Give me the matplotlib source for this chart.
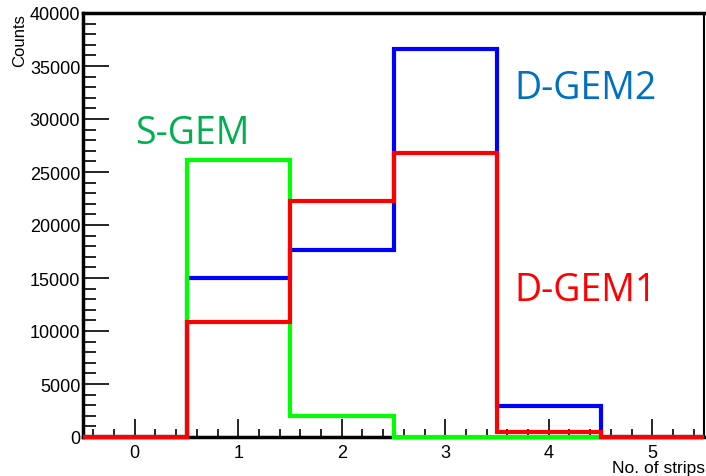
import matplotlib
matplotlib.use("Agg")
import matplotlib.pyplot as plt
from matplotlib.ticker import MultipleLocator
import numpy as np

edges = [-0.5, 0.5, 1.5, 2.5, 3.5, 4.5, 5.5]
s_gem = [0, 26100, 1950, 0, 0, 0]
d_gem2 = [0, 15000, 17650, 36600, 2950, 0]
d_gem1 = [0, 10850, 22300, 26750, 450, 0]

plt.rcParams['font.family'] = ['Liberation Sans', 'DejaVu Sans']
fig = plt.figure(figsize=(7.06, 4.77), dpi=100)
ax = fig.add_axes([83/706, 1-438/477, (704-83)/706, (438-14)/477])

lw = 3.0
ax.stairs(d_gem2, edges, color='#0000ff', linewidth=lw, baseline=0, zorder=3, clip_on=False)
ax.stairs(s_gem, edges, color='#00ff00', linewidth=lw, baseline=0, zorder=4, clip_on=False)
ax.stairs(d_gem1, edges, color='#ff0000', linewidth=lw, baseline=0, zorder=5, clip_on=False)

ax.set_xlim(-0.5, 5.5)
ax.set_ylim(0, 40000)
ax.xaxis.set_major_locator(MultipleLocator(1))
ax.xaxis.set_minor_locator(MultipleLocator(0.2))
ax.yaxis.set_major_locator(MultipleLocator(5000))
ax.yaxis.set_minor_locator(MultipleLocator(1000))
ax.tick_params(axis='both', which='both', direction='in', top=False, right=False, labelsize=13, width=1.2)
ax.tick_params(axis='x', which='major', length=13, pad=5)
ax.tick_params(axis='x', which='minor', length=6)
ax.tick_params(axis='y', which='major', length=19, pad=2)
ax.tick_params(axis='y', which='minor', length=9)
for s in ['left', 'bottom', 'top']:
    ax.spines[s].set_linewidth(2.5)
ax.spines['right'].set_linewidth(1.5)

fig.text(20/706, 1-14/477, 'Counts', rotation=90, ha='center', va='top', fontsize=12)
fig.text(705/706, 1-469/477, 'No. of strips', ha='right', va='center', fontsize=12.5)

tfont = ['Open Sans', 'DejaVu Sans']
fig.text(135/706, 1-134/477, 'S-GEM', color='#00b050', fontsize=27, family=tfont, ha='left', va='center')
fig.text(514/706, 1-89/477, 'D-GEM2', color='#0070c0', fontsize=27, family=tfont, ha='left', va='center')
fig.text(514/706, 1-291/477, 'D-GEM1', color='#ff0000', fontsize=27, family=tfont, ha='left', va='center')

fig.savefig('out.png', dpi=100)
